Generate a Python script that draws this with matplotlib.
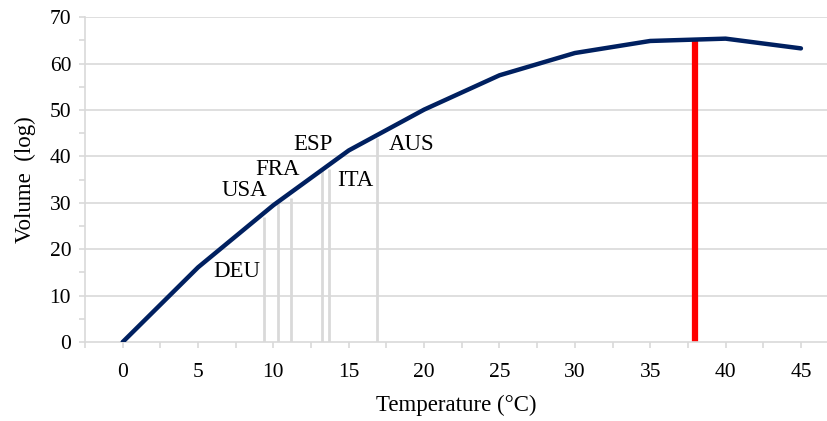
import matplotlib
matplotlib.use("Agg")
import matplotlib.pyplot as plt
import numpy as np

# curve
temps = [0, 5, 10, 15, 20, 25, 30, 35, 40, 45]
volume = [0, 16.1, 29.5, 41.3, 50.1, 57.5, 62.3, 64.9, 65.4, 63.3]

# countries: marker line position, line top, label position
countries = ["DEU", "USA", "FRA", "ESP", "ITA", "AUS"]
country_x = [9.36, 10.3, 11.2, 13.2, 13.66, 16.9]
country_top = [27.0, 30.2, 31.0, 37.4, 37.4, 43.9]
label_x = [7.6, 8.1, 10.3, 12.6, 15.4, 19.2]
label_y = [15.3, 32.6, 37.2, 42.6, 34.9, 42.6]

red_x = 38.0
red_top = 64.9

plt.rcParams['font.family'] = ['Liberation Serif', 'DejaVu Serif']

fig = plt.figure(figsize=(8.27, 4.21), dpi=100)
ax = fig.add_axes([0.1028, 0.1876, 0.8972, 0.7713])

grid_col = "#d9d9d9"
for y in range(10, 71, 10):
    ax.axhline(y, color=grid_col, lw=1.2, zorder=0)

ax.vlines(country_x, 0, country_top, color=grid_col, lw=2, zorder=1)
for name, lx, ly in zip(countries, label_x, label_y):
    ax.text(lx, ly, name, ha="center", va="center", fontsize=16.5, color="black", zorder=4)

ax.plot(temps, volume, color="#002060", lw=3.2, solid_capstyle="round", zorder=3)
ax.vlines([red_x], 0, red_top, color="#ff0000", lw=4.5, zorder=2)

ax.set_xlim(-2.5, 46.73)
ax.set_ylim(0, 70)

ax.set_xticks(np.arange(-2.5, 47, 2.5))
ax.set_xticklabels([str(int(t)) if (t >= 0 and t % 5 == 0) else "" for t in np.arange(-2.5, 47, 2.5)])
ax.set_yticks(np.arange(0, 71, 5))
ax.set_yticklabels([str(int(t)) if t % 10 == 0 else "" for t in np.arange(0, 71, 5)])
ax.tick_params(axis="both", length=4, width=1.2, color=grid_col, labelsize=15.5)
ax.tick_params(axis="x", pad=11)
ax.tick_params(axis="y", pad=6)

for s in ["top", "right"]:
    ax.spines[s].set_visible(False)
for s in ["left", "bottom"]:
    ax.spines[s].set_color(grid_col)
    ax.spines[s].set_linewidth(1.2)

ax.set_xlabel("Temperature (°C)", fontsize=16.5, labelpad=9)
ax.set_ylabel("Volume  (log)", fontsize=16.5, labelpad=10)

fig.savefig("out.png", dpi=100)
